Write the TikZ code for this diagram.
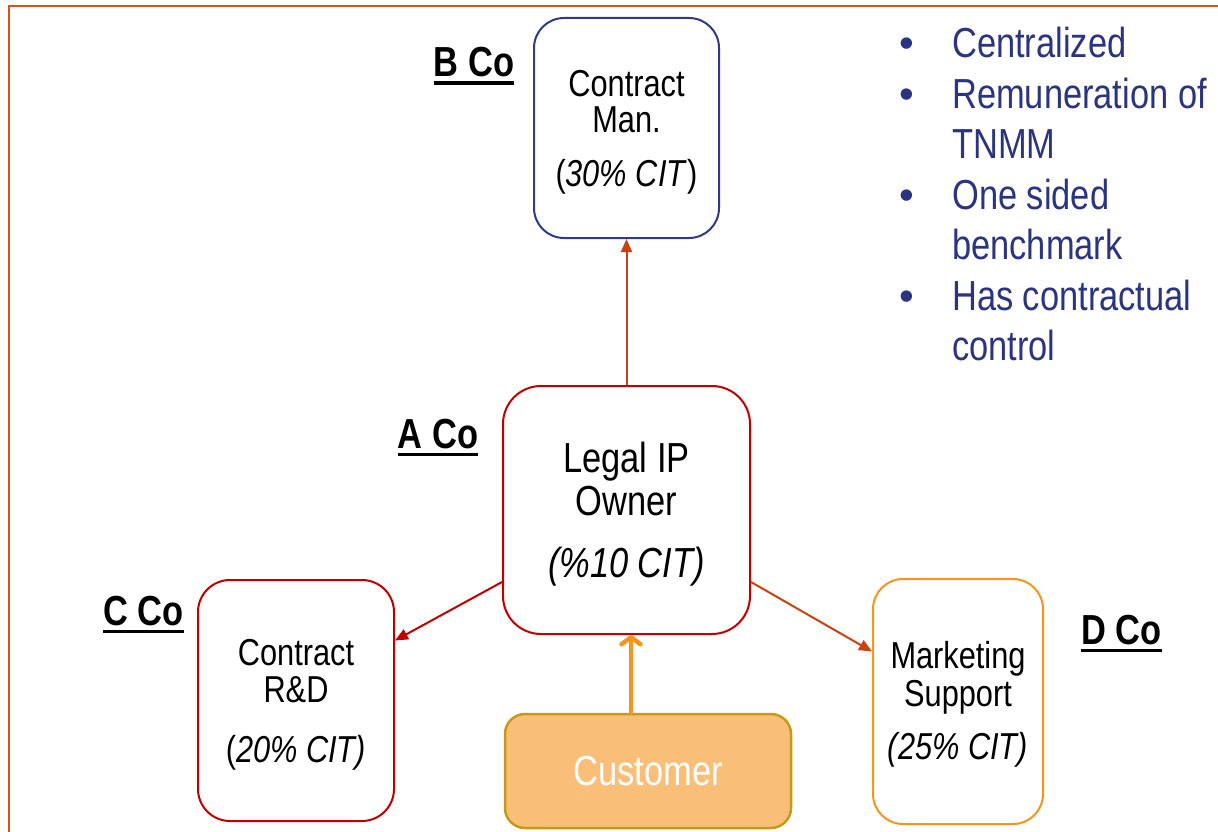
\documentclass[tikz,border=0pt]{standalone}
\usepackage{fontspec}
\setmainfont[FakeStretch=0.82]{Liberation Sans}
\newfontfamily\bulletfont{Liberation Sans}
\usetikzlibrary{arrows.meta,calc}

\definecolor{frameorange}{HTML}{D5541C}
\definecolor{bcoblue}{HTML}{2E3A87}
\definecolor{ared}{HTML}{C00000}
\definecolor{dorange}{HTML}{F7941D}
\definecolor{custfill}{HTML}{F9BF79}
\definecolor{custedge}{HTML}{C49A1B}
\definecolor{linkorange}{HTML}{C9420F}
\definecolor{listblue}{HTML}{2B3480}

% bold company tag with a heavy underline
\newcommand\cotag[1]{\setbox0\hbox{\bfseries #1}\rlap{\rule[-8pt]{\wd0}{3.5pt}}\box0}
% list entries
\newcommand\bitem[1]{\makebox[52.5pt][l]{\bulletfont\textbullet}#1}
\newcommand\bcont[1]{\makebox[52.5pt][l]{}#1}
% invisible strut that sets the height of a first text line
\newcommand\topstrut[1]{\rule{0pt}{#1}}

\tikzset{
  entity/.style={draw, line width=2pt, align=center, inner sep=0pt},
  tag/.style={anchor=base, inner sep=0pt, font=\fontsize{42}{46}\selectfont},
  link/.style={line width=2pt, -{Triangle[length=13pt,width=11pt]}},
  feed/.style={draw=dorange, line width=4.5pt, line cap=round,
    -{Straight Barb[length=7pt,width=19pt,round]}},
}

\begin{document}
\begin{tikzpicture}[x=1pt,y=-1pt]
\useasboundingbox (0,0) rectangle (1218,832);

% page frame
\draw[frameorange, line width=2.5pt] (9,840) -- (9,6) -- (1225,6);

% entities
\node[entity, draw=bcoblue, minimum width=185pt, minimum height=220pt,
  rounded corners=30pt, font=\fontsize{37.5}{36}\selectfont] (B) at (626.5,128)
  {\topstrut{35pt}Contract\\Man.\\[18pt](\textit{30\% CIT})};

\node[entity, draw=ared, minimum width=247pt, minimum height=248pt,
  rounded corners=38pt, font=\fontsize{42}{43}\selectfont] (A) at (626.5,510)
  {\topstrut{38.5pt}Legal IP\\Owner\\[19pt]\textit{(\%10 CIT)}};

\node[entity, draw=ared, minimum width=196pt, minimum height=241pt,
  rounded corners=32pt, font=\fontsize{37.5}{37}\selectfont] (C) at (296,700.5)
  {\topstrut{35pt}Contract\\R\&D\\[23pt](\textit{20\% CIT)}};

\node[entity, draw=dorange, minimum width=170pt, minimum height=245pt,
  rounded corners=30pt, font=\fontsize{37.5}{38}\selectfont] (D) at (958,701.5)
  {\topstrut{32pt}Marketing\\Support\\[15pt]\textit{(25\% CIT)}};

\node[entity, draw=custedge, fill=custfill, line width=2.5pt,
  minimum width=286pt, minimum height=114pt, rounded corners=20pt,
  text=white, font=\fontsize{42}{46}\selectfont] (cust) at (648,771) {Customer};

% company tags
\node[tag] (Btag) at (474,77) {\cotag{B Co}};
\node[tag] (Atag) at (438,448) {\cotag{A Co}};
\node[tag] (Ctag) at (143.5,625) {\cotag{C Co}};
\node[tag] (Dtag) at (1121.5,644) {\cotag{D Co}};

% flows
\draw[link, draw=linkorange] (A) -- (B);
\draw[link, draw=ared] ($(A.west)+(0,72)$) -- ($(C.east)+(0,-60)$);
\draw[link, draw=linkorange] ($(A.east)+(0,72)$) -- ($(D.west)+(0,-50)$);
\coordinate (feedstart) at ($(cust.north)+(-17,0)$);
\draw[feed] (feedstart) -- (feedstart |- A.south);

% characteristics list
\node[anchor=base west, inner sep=0pt, text=listblue,
  font=\fontsize{42}{50.5}\selectfont] (notes) at (899.5,58)
  {\begin{tabular}[t]{@{}l@{}}
   \bitem{Centralized}\\
   \bitem{Remuneration of}\\
   \bcont{TNMM}\\
   \bitem{One sided}\\
   \bcont{benchmark}\\
   \bitem{Has contractual}\\
   \bcont{control}
   \end{tabular}};
\end{tikzpicture}
\end{document}
